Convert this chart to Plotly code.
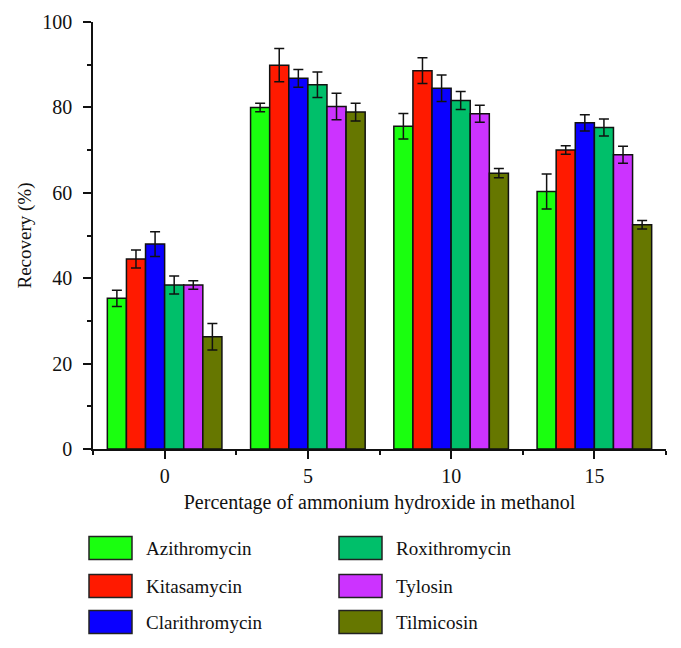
import plotly.graph_objects as go

# percentage of ammonium hydroxide in methanol
pct = [0, 5, 10, 15]

names = ['Azithromycin', 'Kitasamycin', 'Clarithromycin',
         'Roxithromycin', 'Tylosin', 'Tilmicosin']
colors = ['#1AFF0F', '#FF1A00', '#0A00FF', '#00BF6A', '#CC33FF', '#667700']

# recovery (%) and error for each compound at 0, 5, 10, 15 %
azithromycin = [35.3, 80.0, 75.6, 60.3]
azithromycin_err = [1.9, 1.0, 3.0, 4.1]
kitasamycin = [44.5, 89.9, 88.6, 70.0]
kitasamycin_err = [2.1, 3.9, 3.0, 1.0]
clarithromycin = [48.0, 86.8, 84.5, 76.4]
clarithromycin_err = [2.9, 2.1, 3.1, 1.9]
roxithromycin = [38.4, 85.3, 81.6, 75.3]
roxithromycin_err = [2.1, 3.0, 2.1, 2.0]
tylosin = [38.4, 80.2, 78.5, 68.9]
tylosin_err = [1.0, 3.1, 2.0, 2.0]
tilmicosin = [26.3, 78.9, 64.6, 52.5]
tilmicosin_err = [3.1, 2.1, 1.1, 1.0]

values = [azithromycin, kitasamycin, clarithromycin, roxithromycin, tylosin, tilmicosin]
errors = [azithromycin_err, kitasamycin_err, clarithromycin_err,
          roxithromycin_err, tylosin_err, tilmicosin_err]

# page has an 8px body margin, so shift everything up/left by 8
OFF = 8
W, H = 681, 648
L, R, T, B = 93 - OFF, 15 + OFF, 22 - OFF, 199 + OFF
FONT = 'Liberation Serif'

fig = go.Figure()
for n, c, v, e in zip(names, colors, values, errors):
    fig.add_trace(go.Bar(x=pct, y=v, name=n, marker_color=c,
                         marker_line=dict(color='#111', width=1.5),
                         error_y=dict(type='data', array=e, color='#111',
                                      thickness=1.5, width=5),
                         showlegend=False))

# hand-made legend (big swatches, two columns), positions in screen pixels
pw, ph = W - L - R, H - T - B
def px(x): return (x - OFF - L) / pw
def py(y): return (H - B - (y - OFF)) / ph

shapes, annots = [], []
rows = [548, 586, 622]
cols = [(89, 144), (339, 394)]
for i, (n, c) in enumerate(zip(names, colors)):
    sx, tx = cols[i // 3]
    cy = rows[i % 3]
    shapes.append(dict(type='rect', xref='paper', yref='paper',
                       x0=px(sx), x1=px(sx + 43), y0=py(cy + 11.5), y1=py(cy - 11.5),
                       fillcolor=c, line=dict(color='#222', width=1.5)))
    annots.append(dict(xref='paper', yref='paper', x=px(tx), y=py(cy),
                       text=n, showarrow=False, xanchor='left', yanchor='middle',
                       font=dict(family=FONT, size=19, color='#111')))

fig.update_layout(
    width=W, height=H,
    margin=dict(l=L, r=R, t=T, b=B, autoexpand=False),
    plot_bgcolor='white', paper_bgcolor='white',
    barmode='group', bargap=0.2, bargroupgap=0,
    font=dict(family=FONT, size=20, color='#111'),
    shapes=shapes, annotations=annots,
)
fig.update_xaxes(range=[-2.5, 17.5], tickvals=pct, showline=True, linecolor='#111',
                 linewidth=1.5, ticks='outside', ticklen=8, tickwidth=1.5, tickcolor='#111',
                 minor=dict(dtick=2.5, tick0=-2.5, ticks='outside', ticklen=4,
                            tickwidth=1.5, tickcolor='#111'),
                 showgrid=False, zeroline=False, ticklabelstandoff=0, automargin=False,
                 title=dict(text='Percentage of ammonium hydroxide in methanol',
                            standoff=9, font=dict(size=20)))
fig.update_yaxes(range=[0, 100], dtick=20, showline=True, linecolor='#111',
                 linewidth=1.5, ticks='outside', ticklen=8, tickwidth=1.5, tickcolor='#111',
                 minor=dict(dtick=10, ticks='outside', ticklen=4,
                            tickwidth=1.5, tickcolor='#111'),
                 showgrid=False, zeroline=False, ticklabelstandoff=7, automargin=False,
                 title=dict(text='Recovery (%)', standoff=6, font=dict(size=19)))

fig.write_html('out.html')
